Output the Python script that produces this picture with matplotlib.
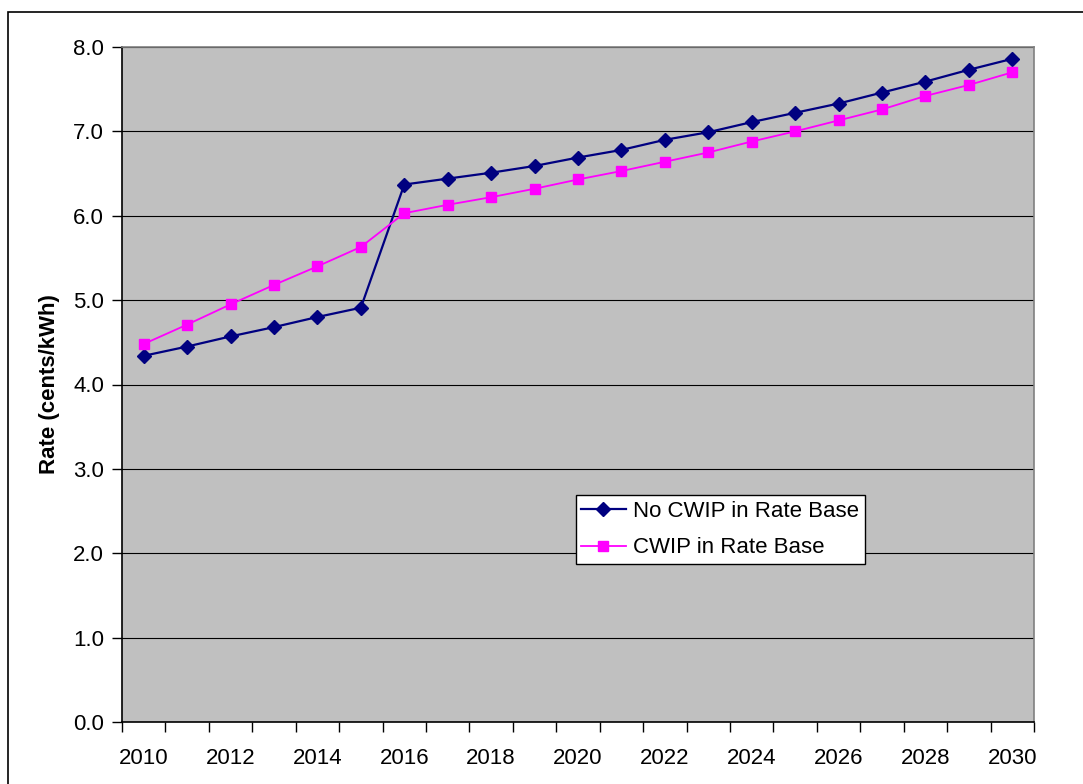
import numpy as np
import matplotlib
matplotlib.use('Agg')
import matplotlib.pyplot as plt
from matplotlib.patches import Rectangle

years = np.arange(2010, 2031)
no_cwip = [4.34, 4.45, 4.57, 4.68, 4.80, 4.91, 6.37, 6.44, 6.51, 6.59, 6.69,
           6.78, 6.90, 6.99, 7.11, 7.22, 7.33, 7.46, 7.59, 7.73, 7.86]
cwip = [4.48, 4.71, 4.95, 5.18, 5.40, 5.63, 6.03, 6.13, 6.22, 6.32, 6.43,
        6.53, 6.64, 6.75, 6.88, 7.00, 7.13, 7.26, 7.42, 7.55, 7.70]
year_labels = [str(y) for y in range(2010, 2031, 2)]
y_ticks = np.arange(0, 8.1, 1.0)

plt.rcParams['font.family'] = ['Liberation Sans', 'DejaVu Sans']
fs = 16

fig = plt.figure(figsize=(10.83, 7.84), dpi=100)
ax = fig.add_axes([122/1083, 1 - 722/784, (1034-122)/1083, (722-47)/784])
ax.set_facecolor('#C0C0C0')

ax.plot(years, no_cwip, color='#000080', lw=1.6, marker='D', ms=7.5,
        label='No CWIP in Rate Base', zorder=3)
ax.plot(years, cwip, color='#FF00FF', lw=1.3, marker='s', ms=7.2,
        label='CWIP in Rate Base', zorder=3)

ax.set_xlim(2009.5, 2030.5)
ax.set_ylim(0, 8)
ax.set_yticks(y_ticks)
ax.set_yticklabels(['%.1f' % v for v in y_ticks], fontsize=fs)
ax.set_xticks(range(2010, 2031, 2))
ax.set_xticklabels(year_labels, fontsize=fs)
ax.set_xticks(np.arange(2009.5, 2031, 1.0), minor=True)
ax.tick_params(axis='x', which='major', length=0, pad=19)
ax.tick_params(axis='x', which='minor', length=7, width=1, direction='out')
ax.tick_params(axis='y', length=7, width=1, direction='out', pad=6)
ax.yaxis.grid(True, color='black', lw=0.8)
ax.set_axisbelow(True)

ax.spines['left'].set_color('black')
ax.spines['bottom'].set_color('black')
ax.spines['top'].set_color('#808080')
ax.spines['right'].set_color('#808080')
for s in ax.spines.values():
    s.set_linewidth(1.2)

ax.set_ylabel('Rate (cents/kWh)', fontsize=fs, fontweight='bold', labelpad=9)

leg = ax.legend(loc='upper left', bbox_to_anchor=(0.4975, 0.336), borderaxespad=0,
                fontsize=fs, fancybox=False, framealpha=1, edgecolor='black',
                handlelength=2.0, handletextpad=0.35, labelspacing=0.7,
                borderpad=0.25)
leg.get_frame().set_linewidth(1.0)

# outer chart border
fig.patches.append(Rectangle((8/1083, -0.1), 1.2, 0.1 + 1 - 12/784,
                             transform=fig.transFigure, fill=False,
                             edgecolor='black', lw=1.2))

fig.savefig('out.png', dpi=100)
